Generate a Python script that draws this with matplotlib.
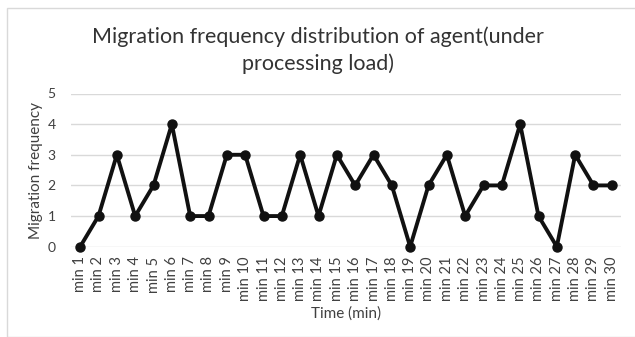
import matplotlib
matplotlib.use("Agg")
import matplotlib.pyplot as plt
from matplotlib.patches import Rectangle

categories = [f"min {i}" for i in range(1, 31)]
values = [0, 1, 3, 1, 2, 4, 1, 1, 3, 3, 1, 1, 3, 1, 3, 2, 3, 2, 0, 2, 3, 1, 2, 2, 4, 1, 0, 3, 2, 2]
yticks = [0, 1, 2, 3, 4, 5]

plt.rcParams['font.family'] = ['Lato', 'DejaVu Sans']

W, H = 635, 337
fig = plt.figure(figsize=(W / 100, H / 100), dpi=100)
fig.patches.append(Rectangle((7 / W, 0), 1, 1 - 8 / H, transform=fig.transFigure,
                             fill=False, edgecolor='#d9d9d9', linewidth=1))

left, right = 71 / W, 621 / W
bottom, top = 1 - 246.7 / H, 1 - 93.5 / H
ax = fig.add_axes([left, bottom, right - left, top - bottom])

x = list(range(len(categories)))
ax.plot(x, values, color='#111111', linewidth=2.8, marker='o', markersize=6.5, zorder=3, clip_on=False)
ax.set_xlim(-0.5, len(categories) - 0.5)
ax.set_ylim(0, 5)
ax.set_yticks(yticks)
ax.set_xticks(x)
ax.set_xticklabels(categories, rotation=90, fontsize=10.5, color='#404040')
ax.tick_params(axis='y', labelsize=10, labelcolor='#404040', length=0, pad=11)
ax.tick_params(axis='x', length=0, pad=7)
ax.grid(axis='y', color='#d9d9d9', linewidth=1)
ax.set_axisbelow(True)
for s in ax.spines.values():
    s.set_visible(False)

ax.set_ylabel("Migration frequency", fontsize=11, color='#404040', labelpad=3)
ax.set_xlabel("Time (min)", fontsize=11, color='#404040', labelpad=4)

fig.text(0.5, 1 - 37 / H, "Migration frequency distribution of agent(under", ha='center', va='center',
         fontsize=15.5, color='#333333')
fig.text(0.5, 1 - 64 / H, "processing load)", ha='center', va='center',
         fontsize=15.5, color='#333333')

fig.savefig("out.png", dpi=100, facecolor='white')
